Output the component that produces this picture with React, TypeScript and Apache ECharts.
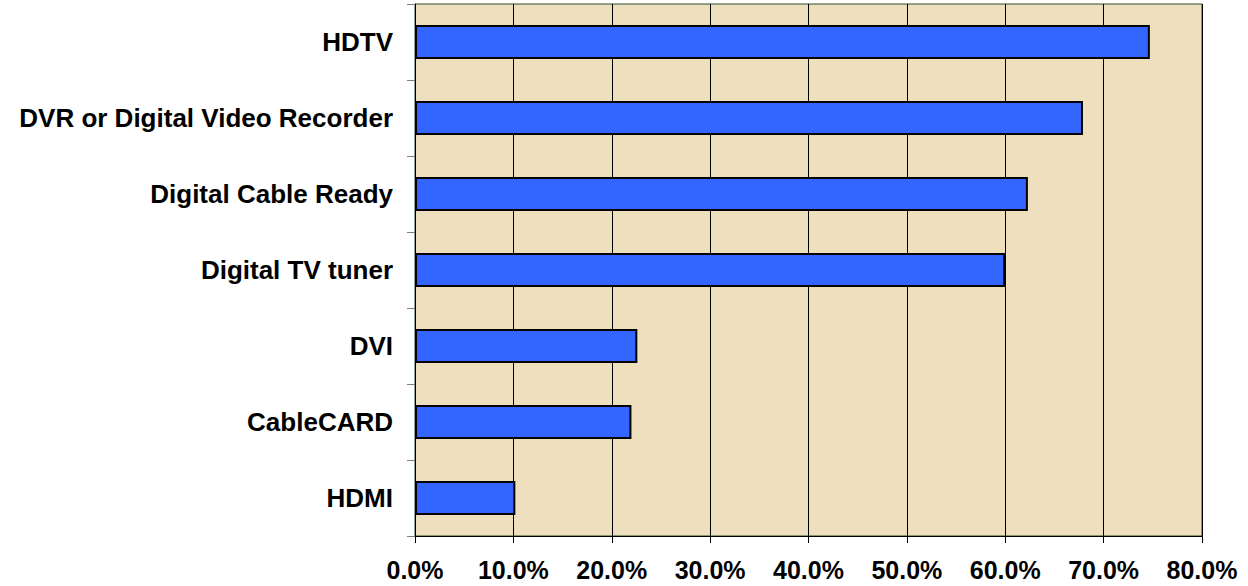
import React, { useEffect, useRef } from "react";
import * as echarts from "echarts";

const categories = [
  "HDTV",
  "DVR or Digital Video Recorder",
  "Digital Cable Ready",
  "Digital TV tuner",
  "DVI",
  "CableCARD",
  "HDMI",
];
const values = [74.7, 67.9, 62.3, 60.0, 22.6, 22.0, 10.2];
const xMin = 0;
const xMax = 80;
const xInterval = 10;

const FONT = "'Liberation Sans', Arial, sans-serif";

export default function App() {
  const ref = useRef<HTMLDivElement>(null);
  useEffect(() => {
    if (!ref.current) return;
    const chart = echarts.init(ref.current, undefined, { renderer: "svg" });
    chart.setOption({
      animation: false,
      backgroundColor: "#ffffff",
      grid: {
        left: 415,
        right: 46,
        top: 4,
        bottom: 50,
        show: true,
        backgroundColor: "#EEDFBE",
        borderColor: "#2b4a2b",
        borderWidth: 1,
      },
      xAxis: {
        type: "value",
        min: xMin,
        max: xMax,
        interval: xInterval,
        axisLine: { show: true, lineStyle: { color: "#000", width: 1 } },
        axisTick: { show: true, length: 7, lineStyle: { color: "#000" } },
        splitLine: { show: true, lineStyle: { color: "#000", width: 1 } },
        axisLabel: {
          formatter: (v: number) => v.toFixed(1) + "%",
          color: "#000",
          fontFamily: FONT,
          fontWeight: "bold",
          fontSize: 25,
          margin: 21,
        },
      },
      yAxis: {
        type: "category",
        data: categories,
        inverse: true,
        axisLine: { show: true, lineStyle: { color: "#000", width: 1 } },
        axisTick: { show: true, length: 8, lineStyle: { color: "#808080" } },
        splitLine: { show: false },
        axisLabel: {
          color: "#000",
          fontFamily: FONT,
          fontWeight: "bold",
          fontSize: 26,
          margin: 22,
        },
      },
      series: [
        {
          type: "bar",
          data: values,
          barCategoryGap: "55%",
          itemStyle: {
            color: "#3366FF",
            borderColor: "#000",
            borderWidth: 2,
          },
        },
      ],
    });
    return () => chart.dispose();
  }, []);
  return (
    <div
      ref={ref}
      style={{ position: "fixed", left: 0, top: 0, width: 1248, height: 586 }}
    />
  );
}
